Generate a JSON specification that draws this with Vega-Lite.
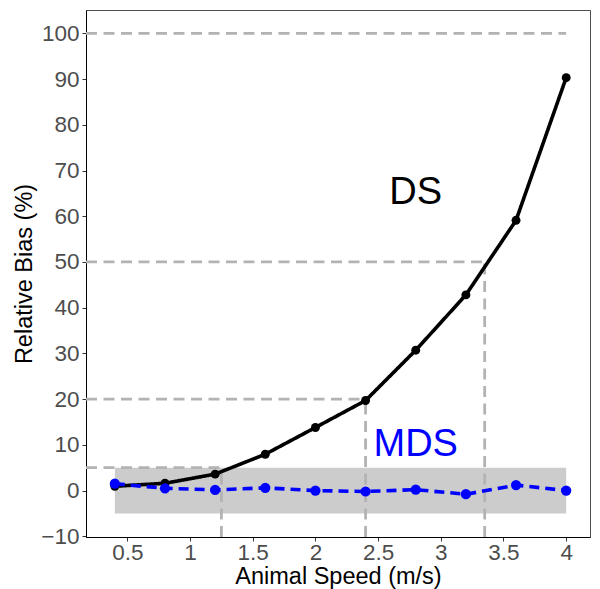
{
  "$schema": "https://vega.github.io/schema/vega-lite/v6.json",
  "width": 504,
  "height": 527,
  "autosize": {"type": "none"},
  "padding": {"left": 86, "top": 10, "right": 10, "bottom": 52},
  "background": "white",
  "config": {
    "font": "Liberation Sans",
    "view": {"stroke": "#4d4d4d", "strokeWidth": 1},
    "axis": {
      "grid": false,
      "domainColor": "#000000",
      "domainWidth": 1,
      "tickColor": "#333333",
      "tickSize": 4,
      "tickWidth": 1,
      "labelFont": "Liberation Sans",
      "labelFontSize": 22.5,
      "labelColor": "#4d4d4d",
      "titleFont": "Liberation Sans",
      "titleFontSize": 23.5,
      "titleFontWeight": "normal",
      "titleColor": "#000000"
    }
  },
  "datasets": {
    "series": [
      {"speed": 0.4, "method": "DS", "bias": 0.95},
      {"speed": 0.8, "method": "DS", "bias": 1.6},
      {"speed": 1.2, "method": "DS", "bias": 3.6},
      {"speed": 1.6, "method": "DS", "bias": 7.95},
      {"speed": 2.0, "method": "DS", "bias": 13.8},
      {"speed": 2.4, "method": "DS", "bias": 19.7},
      {"speed": 2.8, "method": "DS", "bias": 30.7},
      {"speed": 3.2, "method": "DS", "bias": 42.8},
      {"speed": 3.6, "method": "DS", "bias": 59.1},
      {"speed": 4.0, "method": "DS", "bias": 90.3},
      {"speed": 0.4, "method": "MDS", "bias": 1.5},
      {"speed": 0.8, "method": "MDS", "bias": 0.5},
      {"speed": 1.2, "method": "MDS", "bias": 0.15},
      {"speed": 1.6, "method": "MDS", "bias": 0.6},
      {"speed": 2.0, "method": "MDS", "bias": 0.0},
      {"speed": 2.4, "method": "MDS", "bias": -0.2},
      {"speed": 2.8, "method": "MDS", "bias": 0.2},
      {"speed": 3.2, "method": "MDS", "bias": -0.8},
      {"speed": 3.6, "method": "MDS", "bias": 1.2},
      {"speed": 4.0, "method": "MDS", "bias": 0.0}
    ],
    "band": [{"x1": 0.4, "x2": 4.0, "y1": -5, "y2": 5}],
    "refs": [
      {"x1": 0.17, "x2": 4.0, "y1": 100, "y2": 100},
      {"x1": 0.17, "x2": 3.35, "y1": 50, "y2": 50},
      {"x1": 0.17, "x2": 2.4, "y1": 20, "y2": 20},
      {"x1": 0.17, "x2": 1.25, "y1": 5, "y2": 5},
      {"x1": 1.25, "x2": 1.25, "y1": -10.15, "y2": 5},
      {"x1": 2.4, "x2": 2.4, "y1": -10.15, "y2": 20},
      {"x1": 3.35, "x2": 3.35, "y1": -10.15, "y2": 50}
    ],
    "labels": [
      {"label": "DS", "x": 2.8, "y": 65, "method": "DS"},
      {"label": "MDS", "x": 2.8, "y": 10, "method": "MDS"}
    ]
  },
  "layer": [
    {
      "data": {"name": "band"},
      "mark": {"type": "rect", "fill": "#cccccc"},
      "encoding": {
        "x": {"field": "x1", "type": "quantitative", "scale": {"domain": [0.17, 4.19], "nice": false, "zero": false},
          "axis": {"title": "Animal Speed (m/s)", "values": [0.5, 1, 1.5, 2, 2.5, 3, 3.5, 4], "format": "~g", "labelPadding": 0, "titleBaseline": "alphabetic", "titleY": 46}},
        "x2": {"field": "x2"},
        "y": {"field": "y1", "type": "quantitative", "scale": {"domain": [-10.15, 105.1], "nice": false, "zero": false},
          "axis": {"title": "Relative Bias (%)", "values": [-10, 0, 10, 20, 30, 40, 50, 60, 70, 80, 90, 100], "labelPadding": 3, "titlePadding": 4}},
        "y2": {"field": "y2"}
      }
    },
    {
      "data": {"name": "refs"},
      "mark": {"type": "rule", "color": "#b3b3b3", "strokeWidth": 2.8, "strokeDash": [11, 6.5]},
      "encoding": {
        "x": {"field": "x1", "type": "quantitative"},
        "x2": {"field": "x2"},
        "y": {"field": "y1", "type": "quantitative"},
        "y2": {"field": "y2"}
      }
    },
    {
      "data": {"name": "series"},
      "mark": {"type": "line", "strokeWidth": 3.6},
      "encoding": {
        "x": {"field": "speed", "type": "quantitative"},
        "y": {"field": "bias", "type": "quantitative"},
        "color": {"field": "method", "type": "nominal", "scale": {"domain": ["DS", "MDS"], "range": ["#000000", "#0000ff"]}, "legend": null},
        "strokeDash": {"field": "method", "type": "nominal", "scale": {"domain": ["DS", "MDS"], "range": [[1, 0], [10, 6]]}, "legend": null}
      }
    },
    {
      "data": {"name": "series"},
      "mark": {"type": "point", "filled": true, "opacity": 1},
      "encoding": {
        "x": {"field": "speed", "type": "quantitative"},
        "y": {"field": "bias", "type": "quantitative"},
        "color": {"field": "method", "type": "nominal", "scale": {"domain": ["DS", "MDS"], "range": ["#000000", "#0000ff"]}, "legend": null},
        "size": {"field": "method", "type": "nominal", "scale": {"domain": ["DS", "MDS"], "range": [80, 105]}, "legend": null}
      }
    },
    {
      "data": {"name": "labels"},
      "mark": {"type": "text", "fontSize": 38, "font": "Liberation Sans", "align": "center", "baseline": "middle"},
      "encoding": {
        "x": {"field": "x", "type": "quantitative"},
        "y": {"field": "y", "type": "quantitative"},
        "text": {"field": "label"},
        "color": {"field": "method", "type": "nominal", "scale": {"domain": ["DS", "MDS"], "range": ["#000000", "#0000ff"]}, "legend": null}
      }
    }
  ]
}
